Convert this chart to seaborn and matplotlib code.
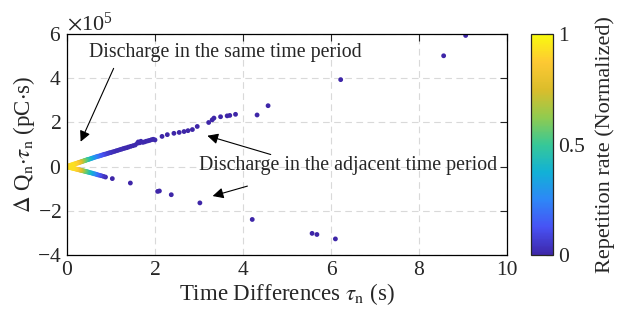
import numpy as np
import pandas as pd
import matplotlib
matplotlib.use("Agg")
import matplotlib.pyplot as plt
import seaborn as sns
from matplotlib.colors import LinearSegmentedColormap, Normalize
from matplotlib.cm import ScalarMappable
from matplotlib.ticker import ScalarFormatter

# ---------------- data (tau in s, dQ*tau in units of 1e5 pC*s, rate normalized) ----
upper_dense_x = [0.01, 0.03, 0.05, 0.07, 0.09, 0.11, 0.13, 0.15, 0.17, 0.19, 0.21, 0.23,
                 0.25, 0.27, 0.29, 0.31, 0.33, 0.35, 0.37, 0.39, 0.41, 0.43, 0.45, 0.47,
                 0.49, 0.52, 0.55, 0.58, 0.61, 0.64, 0.67, 0.70, 0.73, 0.76, 0.79, 0.82,
                 0.85, 0.88, 0.91, 0.94, 0.97, 1.00, 1.04, 1.08, 1.12, 1.16, 1.20, 1.24,
                 1.28, 1.32, 1.36, 1.40, 1.45, 1.50, 1.55, 1.60, 1.62, 1.65, 1.68, 1.72,
                 1.76, 1.80, 1.84, 1.88, 1.92, 1.96, 2.00]
upper_dense_y = [0.01, 0.03, 0.04, 0.05, 0.07, 0.08, 0.09, 0.11, 0.12, 0.13, 0.15, 0.16,
                 0.17, 0.19, 0.20, 0.21, 0.23, 0.24, 0.25, 0.27, 0.28, 0.29, 0.31, 0.32,
                 0.33, 0.35, 0.37, 0.39, 0.41, 0.43, 0.45, 0.47, 0.48, 0.50, 0.52, 0.54,
                 0.56, 0.57, 0.59, 0.61, 0.63, 0.64, 0.67, 0.69, 0.72, 0.74, 0.77, 0.79,
                 0.82, 0.84, 0.86, 0.89, 0.92, 0.95, 0.98, 1.06, 1.12, 1.08, 1.15, 1.10,
                 1.12, 1.15, 1.17, 1.19, 1.22, 1.24, 1.21]
upper_dense_c = [0.62, 0.75, 0.85, 0.90, 0.92, 0.93, 0.93, 0.92, 0.91, 0.90, 0.88, 0.86,
                 0.83, 0.80, 0.77, 0.73, 0.69, 0.65, 0.61, 0.58, 0.55, 0.52, 0.49, 0.46,
                 0.43, 0.39, 0.35, 0.31, 0.28, 0.25, 0.22, 0.19, 0.16, 0.14, 0.12, 0.10,
                 0.08, 0.07, 0.06, 0.05, 0.04, 0.03, 0.03, 0.02, 0.02, 0.02, 0.02, 0.02,
                 0.01, 0.01, 0.01, 0.01, 0.01, 0.01, 0.01, 0.01, 0.01, 0.01, 0.01, 0.01,
                 0.01, 0.01, 0.01, 0.01, 0.01, 0.01, 0.01]

upper_sparse_x = [2.16, 2.28, 2.43, 2.55, 2.66, 2.75, 2.85, 2.96, 3.22, 3.30, 3.34, 3.49,
                  3.64, 3.70, 3.83, 4.32, 4.57, 6.22, 8.56, 9.06]
upper_sparse_y = [1.37, 1.45, 1.51, 1.55, 1.59, 1.63, 1.68, 1.82, 2.00, 2.12, 2.20, 2.26,
                  2.30, 2.32, 2.37, 2.34, 2.76, 3.94, 5.02, 5.94]

lower_dense_x = [0.01, 0.03, 0.05, 0.07, 0.09, 0.11, 0.13, 0.15, 0.17, 0.19, 0.21, 0.23,
                 0.25, 0.27, 0.29, 0.31, 0.33, 0.35, 0.37, 0.39, 0.41, 0.43, 0.45, 0.47,
                 0.49, 0.52, 0.55, 0.58, 0.61, 0.64, 0.67, 0.70, 0.74, 0.78, 0.83, 0.875]
lower_dense_y = [-0.01, -0.02, -0.03, -0.04, -0.05, -0.06, -0.07, -0.08, -0.09, -0.10,
                 -0.11, -0.12, -0.13, -0.14, -0.15, -0.16, -0.17, -0.18, -0.19, -0.20,
                 -0.21, -0.22, -0.23, -0.24, -0.25, -0.27, -0.28, -0.30, -0.32, -0.33,
                 -0.35, -0.37, -0.39, -0.41, -0.44, -0.47]
lower_dense_c = [0.62, 0.76, 0.86, 0.91, 0.93, 0.93, 0.93, 0.92, 0.91, 0.90, 0.88, 0.86,
                 0.83, 0.80, 0.77, 0.73, 0.69, 0.65, 0.61, 0.58, 0.55, 0.52, 0.49, 0.46,
                 0.43, 0.39, 0.35, 0.31, 0.27, 0.23, 0.19, 0.15, 0.11, 0.07, 0.04, 0.02]

lower_sparse_x = [1.03, 1.44, 2.06, 2.10, 2.37, 3.02, 4.21, 5.57, 5.68, 6.10]
lower_sparse_y = [-0.54, -0.74, -1.12, -1.10, -1.27, -1.64, -2.39, -3.02, -3.07, -3.27]

x_ticks = [0, 2, 4, 6, 8, 10]
y_ticks = [-4, -2, 0, 2, 4, 6]
cbar_ticks = [0, 0.5, 1]

parula_anchors = [(0.2422, 0.1504, 0.6603), (0.2810, 0.3228, 0.9579),
                  (0.1786, 0.5289, 0.9682), (0.0689, 0.6948, 0.8394),
                  (0.2161, 0.7843, 0.5923), (0.5709, 0.7961, 0.3082),
                  (0.8590, 0.7414, 0.1688), (0.9942, 0.7877, 0.2006),
                  (0.9763, 0.9831, 0.0538)]

# ---------------- build table ----------------
xs = upper_dense_x + upper_sparse_x + lower_dense_x + lower_sparse_x
ys = upper_dense_y + upper_sparse_y + lower_dense_y + lower_sparse_y
cs = (upper_dense_c + [0.0] * len(upper_sparse_x) + lower_dense_c
      + [0.0] * len(lower_sparse_x))
df = pd.DataFrame({"tau": xs, "dq": np.array(ys) * 1e5, "rate": cs})
df = df.sort_values("rate")

parula = LinearSegmentedColormap.from_list("parula", parula_anchors)

sns.set_style("white")
plt.rcParams["font.family"] = ["Liberation Serif", "DejaVu Serif"]
plt.rcParams["mathtext.fontset"] = "stix"
plt.rcParams["axes.unicode_minus"] = False

fig = plt.figure(figsize=(6.18, 3.22), dpi=100)
ax = fig.add_axes([0.1084, 0.208, 0.712, 0.686])
cax = fig.add_axes([0.859, 0.208, 0.0356, 0.686])

sns.scatterplot(data=df, x="tau", y="dq", hue="rate", palette=parula,
                hue_norm=(0, 1), legend=False, s=12, linewidth=0, ax=ax)

ax.set_xlim(0, 10)
ax.set_ylim(-4e5, 6e5)
ax.set_xticks(x_ticks)
ax.set_yticks([v * 1e5 for v in y_ticks])
fmt = ScalarFormatter(useMathText=True)
fmt.set_powerlimits((0, 0))
ax.yaxis.set_major_formatter(fmt)
ax.yaxis.get_offset_text().set_fontsize(16)
ax.tick_params(direction="in", length=5, width=0.8, labelsize=15.5, top=True, right=True,
               pad=4)
ax.grid(True, color="#d9d9d9", linestyle=(0, (6, 4)), linewidth=0.8)
for sp in ax.spines.values():
    sp.set_color("black")
    sp.set_linewidth(0.9)

ax.set_xlabel(r"Time Differences $\tau_{\mathrm{n}}$ (s)", fontsize=16.5, labelpad=1)
ax.set_ylabel(r"$\Delta$ Q$_{\mathrm{n}}$$\cdot\tau_{\mathrm{n}}$ (pC$\cdot$s)",
              fontsize=16.5, labelpad=0)

arrow = dict(arrowstyle="-|>", color="black", lw=0.8, mutation_scale=16,
             shrinkA=0, shrinkB=0)
ax.text(0.49, 5.16e5, "Discharge in the same time period", fontsize=14.3,
        va="center", ha="left")
ax.annotate("", xy=(0.31, 1.13e5), xytext=(1.06, 4.45e5), arrowprops=arrow)
ax.text(2.99, 0.05e5, "Discharge in the adjacent time period", fontsize=14.3,
        va="center", ha="left")
ax.annotate("", xy=(3.19, 1.40e5), xytext=(4.63, 0.55e5), arrowprops=arrow)
ax.annotate("", xy=(3.31, -1.33e5), xytext=(4.10, -0.88e5), arrowprops=arrow)

sm = ScalarMappable(norm=Normalize(0, 1), cmap=parula)
cb = fig.colorbar(sm, cax=cax, ticks=cbar_ticks)
cb.ax.set_yticklabels(["0", "0.5", "1"])
cb.ax.tick_params(direction="in", length=5, width=0.8, labelsize=15.5)
cb.outline.set_linewidth(0.9)
cb.set_label("Repetition rate (Normalized)", fontsize=16, labelpad=8)

fig.savefig("out.png", dpi=100)
